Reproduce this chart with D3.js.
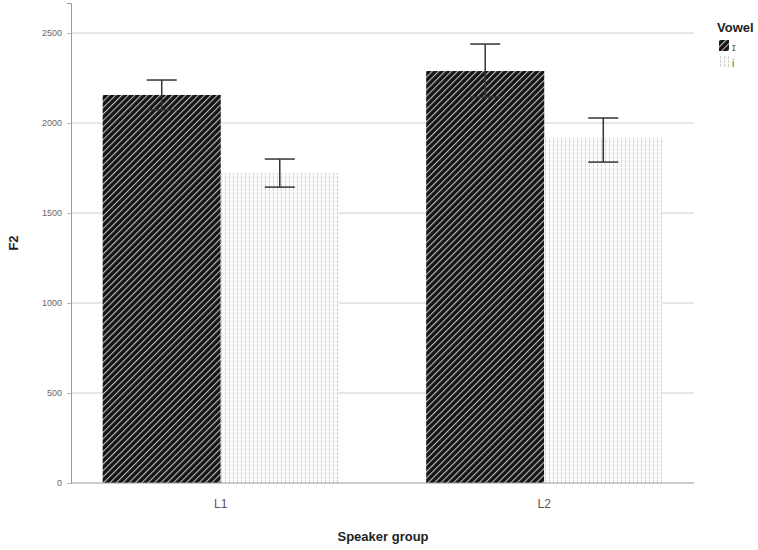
<!DOCTYPE html>
<html>
<head>
<meta charset="utf-8">
<script src="https://cdn.jsdelivr.net/npm/d3@7"></script>
<style>
  body { margin: 0; background: #fff; }
  svg { font-family: "Liberation Sans", Arial, sans-serif; }
</style>
</head>
<body>
<div id="chart"></div>
<script>
// data
const groups = ['L1', 'L2'];
const vowels = ['ɪ', 'i'];
const means = [[2156, 1722], [2289, 1917]];
const lower = [[2073, 1644], [2144, 1783]];
const upper = [[2239, 1800], [2439, 2028]];
const yTicks = [0, 500, 1000, 1500, 2000, 2500];

const width = 758;
const height = 550;
const plotLeft = 71;
const plotRight = 694;
const yMax = 2667;

const svg = d3.select('#chart')
  .append('svg')
    .attr('width', width)
    .attr('height', height);

const defs = svg.append('defs');

// dark diagonal hatch
const hatch = defs.append('pattern')
    .attr('id', 'hatch')
    .attr('patternUnits', 'userSpaceOnUse')
    .attr('width', 4.5)
    .attr('height', 4.5)
    .attr('patternTransform', 'rotate(45)');
hatch.append('rect').attr('width', 4.5).attr('height', 4.5).attr('fill', '#141414');
hatch.append('rect').attr('x', 0).attr('width', 1.1).attr('height', 4.5).attr('fill', '#bdbdbd');

// light vertical dotted lines
const dots = defs.append('pattern')
    .attr('id', 'dots')
    .attr('patternUnits', 'userSpaceOnUse')
    .attr('width', 4)
    .attr('height', 4);
dots.append('rect').attr('width', 4).attr('height', 4).attr('fill', '#fbfbfb');
dots.append('rect').attr('x', 1).attr('y', 0).attr('width', 1).attr('height', 3).attr('fill', '#d2d2d2');

const fills = ['url(#hatch)', 'url(#dots)'];

const y = d3.scaleLinear().domain([0, yMax]).range([483, 3]);

const x = d3.scaleBand()
    .domain(groups)
    .range([59, 706])
    .paddingInner(0)
    .paddingOuter(0);

const xSub = d3.scaleBand()
    .domain(vowels)
    .range([0, x.bandwidth()])
    .paddingInner(0)
    .paddingOuter(0.37);

// gridlines
svg.append('g')
  .selectAll('line')
  .data(yTicks.filter(d => d > 0))
  .join('line')
    .attr('x1', plotLeft)
    .attr('x2', plotRight)
    .attr('y1', d => y(d))
    .attr('y2', d => y(d))
    .attr('stroke', '#cfcfcf')
    .attr('stroke-width', 1);

// bars
const rows = [];
groups.forEach((g, i) => {
  vowels.forEach((v, j) => {
    rows.push({ g, v, j, mean: means[i][j], lo: lower[i][j], hi: upper[i][j] });
  });
});

svg.append('g')
  .selectAll('rect')
  .data(rows)
  .join('rect')
    .attr('x', d => x(d.g) + xSub(d.v))
    .attr('y', d => y(d.mean))
    .attr('width', xSub.bandwidth())
    .attr('height', d => y(0) - y(d.mean))
    .attr('fill', d => fills[d.j]);

// error bars
const capHalf = 15;
const err = svg.append('g')
  .selectAll('g')
  .data(rows)
  .join('g')
    .attr('stroke', '#333')
    .attr('stroke-width', 1.5);
err.append('line')
    .attr('x1', d => x(d.g) + xSub(d.v) + xSub.bandwidth() / 2)
    .attr('x2', d => x(d.g) + xSub(d.v) + xSub.bandwidth() / 2)
    .attr('y1', d => y(d.lo))
    .attr('y2', d => y(d.hi));
err.selectAll('.cap')
  .data(d => [d.lo, d.hi].map(val => ({ d, val })))
  .join('line')
    .attr('class', 'cap')
    .attr('x1', e => x(e.d.g) + xSub(e.d.v) + xSub.bandwidth() / 2 - capHalf)
    .attr('x2', e => x(e.d.g) + xSub(e.d.v) + xSub.bandwidth() / 2 + capHalf)
    .attr('y1', e => y(e.val))
    .attr('y2', e => y(e.val));

// y axis
const yAxis = svg.append('g')
    .attr('transform', `translate(${plotLeft},0)`)
    .call(d3.axisLeft(y).tickValues(yTicks).tickFormat(d3.format('d')).tickSize(4).tickPadding(5));
yAxis.select('.domain').attr('stroke', '#999');
yAxis.selectAll('.tick line').attr('stroke', '#bbb');
yAxis.selectAll('text').attr('font-size', 9).attr('fill', '#666');

// x axis
svg.append('line')
    .attr('x1', plotLeft)
    .attr('x2', plotRight)
    .attr('y1', y(0))
    .attr('y2', y(0))
    .attr('stroke', '#999');

const xAxis = svg.append('g')
    .attr('transform', `translate(0,${y(0)})`)
    .call(d3.axisBottom(x).tickSize(0).tickPadding(16));
xAxis.select('.domain').remove();
xAxis.selectAll('text').attr('font-size', 12).attr('fill', '#555');

// titles
svg.append('text')
    .attr('x', 383)
    .attr('y', 541)
    .attr('text-anchor', 'middle')
    .attr('font-size', 13)
    .attr('font-weight', 'bold')
    .attr('fill', '#222')
    .text('Speaker group');

svg.append('text')
    .attr('transform', 'translate(18,243) rotate(-90)')
    .attr('text-anchor', 'middle')
    .attr('font-size', 13)
    .attr('font-weight', 'bold')
    .attr('fill', '#222')
    .text('F2');

// legend
const legend = svg.append('g').attr('transform', 'translate(717,0)');
legend.append('text')
    .attr('x', 0)
    .attr('y', 32)
    .attr('font-size', 13)
    .attr('font-weight', 'bold')
    .attr('fill', '#222')
    .text('Vowel');
const items = legend.selectAll('.item')
  .data(vowels)
  .join('g')
    .attr('class', 'item')
    .attr('transform', (d, i) => `translate(2,${40 + i * 16})`);
items.append('rect')
    .attr('width', 10)
    .attr('height', 11)
    .attr('fill', (d, i) => fills[i]);
items.append('text')
    .attr('x', 13)
    .attr('y', 11)
    .attr('font-size', 10)
    .attr('fill', '#555')
    .text(d => d);
</script>
</body>
</html>
